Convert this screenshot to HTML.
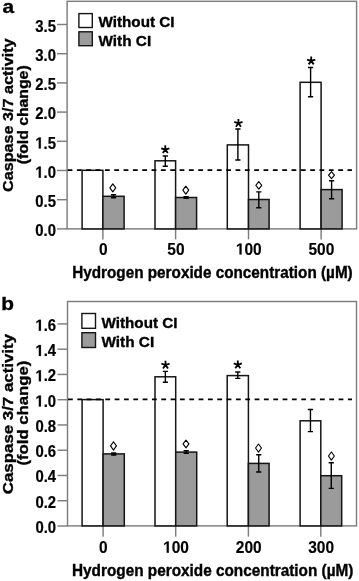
<!DOCTYPE html>
<html><head><meta charset="utf-8"><style>
html,body{margin:0;padding:0;background:#fff;width:359px;height:581px;overflow:hidden}
svg{display:block;will-change:transform}
svg text{font-family:"Liberation Sans",sans-serif;font-weight:bold;fill:#000;stroke:#000;stroke-width:0.35px}
.yl{font-size:14.9px;stroke-width:0.2px!important}
.xl{font-size:15.5px;stroke-width:0.15px!important}
.lg{font-size:15px}
.xt{font-size:15.2px}
.yt{font-size:15.5px}
.pl{font-size:19.5px}
.ast{font-size:17px}
</style></head><body>
<svg width="359" height="581" viewBox="0 0 359 581">
<rect x="67.1" y="1.3" width="289.5" height="227.6" fill="none" stroke="#7e7e7e" stroke-width="1.45"/>
<line x1="57" y1="228.90" x2="67.1" y2="228.90" stroke="#7e7e7e" stroke-width="1.45"/>
<g transform="translate(56.00,236.10) scale(1,1.08)"><text x="0" y="0" class="yl" text-anchor="end" >0.0</text></g>
<line x1="57" y1="199.70" x2="67.1" y2="199.70" stroke="#7e7e7e" stroke-width="1.45"/>
<g transform="translate(56.00,206.90) scale(1,1.08)"><text x="0" y="0" class="yl" text-anchor="end" >0.5</text></g>
<line x1="57" y1="170.50" x2="67.1" y2="170.50" stroke="#7e7e7e" stroke-width="1.45"/>
<g transform="translate(56.00,177.70) scale(1,1.08)"><path transform="translate(-20.71,0) scale(0.00728,-0.00728)" d="M478,0 L478,1170 L140,959 L140,1180 L493,1409 L759,1409 L759,0 Z" fill="#000" stroke="#000" stroke-width="27.5"/><text x="-12.43" y="0" class="yl">.</text><text x="-8.29" y="0" class="yl">0</text></g>
<line x1="57" y1="141.30" x2="67.1" y2="141.30" stroke="#7e7e7e" stroke-width="1.45"/>
<g transform="translate(56.00,148.50) scale(1,1.08)"><path transform="translate(-20.71,0) scale(0.00728,-0.00728)" d="M478,0 L478,1170 L140,959 L140,1180 L493,1409 L759,1409 L759,0 Z" fill="#000" stroke="#000" stroke-width="27.5"/><text x="-12.43" y="0" class="yl">.</text><text x="-8.29" y="0" class="yl">5</text></g>
<line x1="57" y1="112.10" x2="67.1" y2="112.10" stroke="#7e7e7e" stroke-width="1.45"/>
<g transform="translate(56.00,119.30) scale(1,1.08)"><text x="0" y="0" class="yl" text-anchor="end" >2.0</text></g>
<line x1="57" y1="82.90" x2="67.1" y2="82.90" stroke="#7e7e7e" stroke-width="1.45"/>
<g transform="translate(56.00,90.10) scale(1,1.08)"><text x="0" y="0" class="yl" text-anchor="end" >2.5</text></g>
<line x1="57" y1="53.70" x2="67.1" y2="53.70" stroke="#7e7e7e" stroke-width="1.45"/>
<g transform="translate(56.00,60.90) scale(1,1.08)"><text x="0" y="0" class="yl" text-anchor="end" >3.0</text></g>
<line x1="57" y1="24.50" x2="67.1" y2="24.50" stroke="#7e7e7e" stroke-width="1.45"/>
<g transform="translate(56.00,31.70) scale(1,1.08)"><text x="0" y="0" class="yl" text-anchor="end" >3.5</text></g>
<line x1="102.9" y1="228.9" x2="102.9" y2="239.4" stroke="#7e7e7e" stroke-width="1.45"/>
<g transform="translate(103.20,254.60) scale(1,1.05)"><text x="0" y="0" class="xl" text-anchor="middle" >0</text></g>
<rect x="82.10" y="170.30" width="20.80" height="58.60" fill="#fff" stroke="#151515" stroke-width="1.5"/>
<rect x="102.90" y="196.30" width="21.20" height="32.60" fill="#9b9b9b" stroke="#151515" stroke-width="1.5"/>
<path d="M110.90,194.80 H116.10 M113.50,194.80 V197.80 M110.90,197.80 H116.10" stroke="#000" stroke-width="1.4" fill="none"/>
<path d="M112.80,183.80 L115.75,187.80 L112.80,191.80 L109.85,187.80 Z" fill="none" stroke="#000" stroke-width="1.1" stroke-linejoin="round"/>
<line x1="175.6" y1="228.9" x2="175.6" y2="239.4" stroke="#7e7e7e" stroke-width="1.45"/>
<g transform="translate(175.90,254.60) scale(1,1.05)"><text x="0" y="0" class="xl" text-anchor="middle" >50</text></g>
<rect x="155.00" y="160.80" width="20.60" height="68.10" fill="#fff" stroke="#151515" stroke-width="1.5"/>
<rect x="175.60" y="197.50" width="21.00" height="31.40" fill="#9b9b9b" stroke="#151515" stroke-width="1.5"/>
<path d="M162.70,156.00 H167.90 M165.30,156.00 V166.20 M162.70,166.20 H167.90" stroke="#000" stroke-width="1.4" fill="none"/>
<path d="M183.50,196.60 H188.70 M186.10,196.60 V198.40 M183.50,198.40 H188.70" stroke="#000" stroke-width="1.4" fill="none"/>
<path d="M165.30,149.60 L165.30,145.30 M165.30,149.60 L169.39,148.27 M165.30,149.60 L167.83,153.08 M165.30,149.60 L162.77,153.08 M165.30,149.60 L161.21,148.27 " stroke="#000" stroke-width="1.8" fill="none"/>
<path d="M185.80,186.20 L188.75,190.15 L185.80,194.10 L182.85,190.15 Z" fill="none" stroke="#000" stroke-width="1.1" stroke-linejoin="round"/>
<line x1="248.5" y1="228.9" x2="248.5" y2="239.4" stroke="#7e7e7e" stroke-width="1.45"/>
<g transform="translate(248.80,254.60) scale(1,1.05)"><path transform="translate(-12.93,0) scale(0.00757,-0.00757)" d="M478,0 L478,1170 L140,959 L140,1180 L493,1409 L759,1409 L759,0 Z" fill="#000" stroke="#000" stroke-width="19.8"/><text x="-4.31" y="0" class="xl">0</text><text x="4.31" y="0" class="xl">0</text></g>
<rect x="227.30" y="144.90" width="21.20" height="84.00" fill="#fff" stroke="#151515" stroke-width="1.5"/>
<rect x="248.50" y="199.50" width="20.60" height="29.40" fill="#9b9b9b" stroke="#151515" stroke-width="1.5"/>
<path d="M235.30,129.00 H240.50 M237.90,129.00 V160.00 M235.30,160.00 H240.50" stroke="#000" stroke-width="1.4" fill="none"/>
<path d="M256.20,191.90 H261.40 M258.80,191.90 V207.70 M256.20,207.70 H261.40" stroke="#000" stroke-width="1.4" fill="none"/>
<path d="M238.40,123.30 L238.40,119.00 M238.40,123.30 L242.49,121.97 M238.40,123.30 L240.93,126.78 M238.40,123.30 L235.87,126.78 M238.40,123.30 L234.31,121.97 " stroke="#000" stroke-width="1.8" fill="none"/>
<path d="M258.80,181.50 L261.75,185.30 L258.80,189.10 L255.85,185.30 Z" fill="none" stroke="#000" stroke-width="1.1" stroke-linejoin="round"/>
<line x1="321.1" y1="228.9" x2="321.1" y2="239.4" stroke="#7e7e7e" stroke-width="1.45"/>
<g transform="translate(321.40,254.60) scale(1,1.05)"><text x="0" y="0" class="xl" text-anchor="middle" >500</text></g>
<rect x="300.10" y="82.30" width="21.00" height="146.60" fill="#fff" stroke="#151515" stroke-width="1.5"/>
<rect x="321.10" y="189.60" width="21.00" height="39.30" fill="#9b9b9b" stroke="#151515" stroke-width="1.5"/>
<path d="M308.00,67.50 H313.20 M310.60,67.50 V96.80 M308.00,96.80 H313.20" stroke="#000" stroke-width="1.4" fill="none"/>
<path d="M329.00,180.80 H334.20 M331.60,180.80 V198.70 M329.00,198.70 H334.20" stroke="#000" stroke-width="1.4" fill="none"/>
<path d="M311.20,60.90 L311.20,56.60 M311.20,60.90 L315.29,59.57 M311.20,60.90 L313.73,64.38 M311.20,60.90 L308.67,64.38 M311.20,60.90 L307.11,59.57 " stroke="#000" stroke-width="1.8" fill="none"/>
<path d="M331.50,171.70 L334.45,175.15 L331.50,178.60 L328.55,175.15 Z" fill="none" stroke="#000" stroke-width="1.1" stroke-linejoin="round"/>
<line x1="67.6" y1="170.15" x2="352" y2="170.15" stroke="#000" stroke-width="1.7" stroke-dasharray="4.8 4.53"/>
<rect x="78.9" y="13.6" width="13.4" height="13.9" fill="#fff" stroke="#151515" stroke-width="1.4"/>
<rect x="78.9" y="31.8" width="13.4" height="13.9" fill="#9b9b9b" stroke="#151515" stroke-width="1.4"/>
<g transform="translate(98.50,26.90) scale(1,1.02)"><text x="0" y="0" class="lg" text-anchor="start" textLength="76" lengthAdjust="spacingAndGlyphs">Without CI</text></g>
<g transform="translate(98.50,45.60) scale(1,1.02)"><text x="0" y="0" class="lg" text-anchor="start" textLength="52.7" lengthAdjust="spacingAndGlyphs">With CI</text></g>
<g transform="translate(72.20,277.60) scale(1,1.12)"><text x="0" y="0" class="xt" text-anchor="start" textLength="280.5" lengthAdjust="spacingAndGlyphs">Hydrogen peroxide concentration (µM)</text></g>
<text transform="translate(13.0,115.15) rotate(-90)" class="yt" text-anchor="middle" textLength="153.5" lengthAdjust="spacingAndGlyphs">Caspase 3/7 activity</text>
<text transform="translate(28.3,114.85) rotate(-90)" class="yt" text-anchor="middle" textLength="99.0" lengthAdjust="spacingAndGlyphs">(fold change)</text>
<g transform="translate(2.50,13.20) scale(1.07,0.97)"><text x="0" y="0" class="pl" text-anchor="start" >a</text></g>
<rect x="67.5" y="301.5" width="289.0" height="224.39999999999998" fill="none" stroke="#7e7e7e" stroke-width="1.45"/>
<line x1="57.5" y1="526.00" x2="67.5" y2="526.00" stroke="#7e7e7e" stroke-width="1.45"/>
<g transform="translate(56.10,532.90) scale(1,1.08)"><text x="0" y="0" class="yl" text-anchor="end" >0.0</text></g>
<line x1="57.5" y1="500.74" x2="67.5" y2="500.74" stroke="#7e7e7e" stroke-width="1.45"/>
<g transform="translate(56.10,507.64) scale(1,1.08)"><text x="0" y="0" class="yl" text-anchor="end" >0.2</text></g>
<line x1="57.5" y1="475.48" x2="67.5" y2="475.48" stroke="#7e7e7e" stroke-width="1.45"/>
<g transform="translate(56.10,482.38) scale(1,1.08)"><text x="0" y="0" class="yl" text-anchor="end" >0.4</text></g>
<line x1="57.5" y1="450.22" x2="67.5" y2="450.22" stroke="#7e7e7e" stroke-width="1.45"/>
<g transform="translate(56.10,457.12) scale(1,1.08)"><text x="0" y="0" class="yl" text-anchor="end" >0.6</text></g>
<line x1="57.5" y1="424.96" x2="67.5" y2="424.96" stroke="#7e7e7e" stroke-width="1.45"/>
<g transform="translate(56.10,431.86) scale(1,1.08)"><text x="0" y="0" class="yl" text-anchor="end" >0.8</text></g>
<line x1="57.5" y1="399.70" x2="67.5" y2="399.70" stroke="#7e7e7e" stroke-width="1.45"/>
<g transform="translate(56.10,406.60) scale(1,1.08)"><path transform="translate(-20.71,0) scale(0.00728,-0.00728)" d="M478,0 L478,1170 L140,959 L140,1180 L493,1409 L759,1409 L759,0 Z" fill="#000" stroke="#000" stroke-width="27.5"/><text x="-12.43" y="0" class="yl">.</text><text x="-8.29" y="0" class="yl">0</text></g>
<line x1="57.5" y1="374.44" x2="67.5" y2="374.44" stroke="#7e7e7e" stroke-width="1.45"/>
<g transform="translate(56.10,381.34) scale(1,1.08)"><path transform="translate(-20.71,0) scale(0.00728,-0.00728)" d="M478,0 L478,1170 L140,959 L140,1180 L493,1409 L759,1409 L759,0 Z" fill="#000" stroke="#000" stroke-width="27.5"/><text x="-12.43" y="0" class="yl">.</text><text x="-8.29" y="0" class="yl">2</text></g>
<line x1="57.5" y1="349.18" x2="67.5" y2="349.18" stroke="#7e7e7e" stroke-width="1.45"/>
<g transform="translate(56.10,356.08) scale(1,1.08)"><path transform="translate(-20.71,0) scale(0.00728,-0.00728)" d="M478,0 L478,1170 L140,959 L140,1180 L493,1409 L759,1409 L759,0 Z" fill="#000" stroke="#000" stroke-width="27.5"/><text x="-12.43" y="0" class="yl">.</text><text x="-8.29" y="0" class="yl">4</text></g>
<line x1="57.5" y1="323.92" x2="67.5" y2="323.92" stroke="#7e7e7e" stroke-width="1.45"/>
<g transform="translate(56.10,330.82) scale(1,1.08)"><path transform="translate(-20.71,0) scale(0.00728,-0.00728)" d="M478,0 L478,1170 L140,959 L140,1180 L493,1409 L759,1409 L759,0 Z" fill="#000" stroke="#000" stroke-width="27.5"/><text x="-12.43" y="0" class="yl">.</text><text x="-8.29" y="0" class="yl">6</text></g>
<line x1="103.1" y1="525.9" x2="103.1" y2="536.6999999999999" stroke="#7e7e7e" stroke-width="1.45"/>
<g transform="translate(103.40,552.80) scale(1,1.05)"><text x="0" y="0" class="xl" text-anchor="middle" >0</text></g>
<rect x="82.10" y="399.60" width="21.00" height="126.30" fill="#fff" stroke="#151515" stroke-width="1.5"/>
<rect x="103.10" y="453.90" width="21.20" height="72.00" fill="#9b9b9b" stroke="#151515" stroke-width="1.5"/>
<path d="M111.10,453.00 H116.30 M113.70,453.00 V455.00 M111.10,455.00 H116.30" stroke="#000" stroke-width="1.4" fill="none"/>
<path d="M113.50,441.70 L116.45,445.90 L113.50,450.10 L110.55,445.90 Z" fill="none" stroke="#000" stroke-width="1.1" stroke-linejoin="round"/>
<line x1="175.7" y1="525.9" x2="175.7" y2="536.6999999999999" stroke="#7e7e7e" stroke-width="1.45"/>
<g transform="translate(176.00,552.80) scale(1,1.05)"><path transform="translate(-12.93,0) scale(0.00757,-0.00757)" d="M478,0 L478,1170 L140,959 L140,1180 L493,1409 L759,1409 L759,0 Z" fill="#000" stroke="#000" stroke-width="19.8"/><text x="-4.31" y="0" class="xl">0</text><text x="4.31" y="0" class="xl">0</text></g>
<rect x="155.00" y="376.80" width="20.70" height="149.10" fill="#fff" stroke="#151515" stroke-width="1.5"/>
<rect x="175.70" y="452.10" width="21.00" height="73.80" fill="#9b9b9b" stroke="#151515" stroke-width="1.5"/>
<path d="M162.75,371.40 H167.95 M165.35,371.40 V382.30 M162.75,382.30 H167.95" stroke="#000" stroke-width="1.4" fill="none"/>
<path d="M183.60,450.80 H188.80 M186.20,450.80 V453.40 M183.60,453.40 H188.80" stroke="#000" stroke-width="1.4" fill="none"/>
<path d="M165.50,365.00 L165.50,360.70 M165.50,365.00 L169.59,363.67 M165.50,365.00 L168.03,368.48 M165.50,365.00 L162.97,368.48 M165.50,365.00 L161.41,363.67 " stroke="#000" stroke-width="1.8" fill="none"/>
<path d="M186.00,440.10 L188.95,443.95 L186.00,447.80 L183.05,443.95 Z" fill="none" stroke="#000" stroke-width="1.1" stroke-linejoin="round"/>
<line x1="248.4" y1="525.9" x2="248.4" y2="536.6999999999999" stroke="#7e7e7e" stroke-width="1.45"/>
<g transform="translate(248.70,552.80) scale(1,1.05)"><text x="0" y="0" class="xl" text-anchor="middle" >200</text></g>
<rect x="227.20" y="375.60" width="21.20" height="150.30" fill="#fff" stroke="#151515" stroke-width="1.5"/>
<rect x="248.40" y="463.40" width="20.70" height="62.50" fill="#9b9b9b" stroke="#151515" stroke-width="1.5"/>
<path d="M235.20,372.00 H240.40 M237.80,372.00 V378.40 M235.20,378.40 H240.40" stroke="#000" stroke-width="1.4" fill="none"/>
<path d="M256.15,454.70 H261.35 M258.75,454.70 V472.00 M256.15,472.00 H261.35" stroke="#000" stroke-width="1.4" fill="none"/>
<path d="M237.80,364.80 L237.80,360.50 M237.80,364.80 L241.89,363.47 M237.80,364.80 L240.33,368.28 M237.80,364.80 L235.27,368.28 M237.80,364.80 L233.71,363.47 " stroke="#000" stroke-width="1.8" fill="none"/>
<path d="M258.50,444.00 L261.45,448.05 L258.50,452.10 L255.55,448.05 Z" fill="none" stroke="#000" stroke-width="1.1" stroke-linejoin="round"/>
<line x1="320.8" y1="525.9" x2="320.8" y2="536.6999999999999" stroke="#7e7e7e" stroke-width="1.45"/>
<g transform="translate(321.10,552.80) scale(1,1.05)"><text x="0" y="0" class="xl" text-anchor="middle" >300</text></g>
<rect x="300.10" y="420.80" width="20.70" height="105.10" fill="#fff" stroke="#151515" stroke-width="1.5"/>
<rect x="320.80" y="475.70" width="20.90" height="50.20" fill="#9b9b9b" stroke="#151515" stroke-width="1.5"/>
<path d="M307.85,409.50 H313.05 M310.45,409.50 V431.60 M307.85,431.60 H313.05" stroke="#000" stroke-width="1.4" fill="none"/>
<path d="M328.65,462.70 H333.85 M331.25,462.70 V488.40 M328.65,488.40 H333.85" stroke="#000" stroke-width="1.4" fill="none"/>
<path d="M331.40,452.00 L334.35,456.05 L331.40,460.10 L328.45,456.05 Z" fill="none" stroke="#000" stroke-width="1.1" stroke-linejoin="round"/>
<line x1="68.0" y1="399.30" x2="352" y2="399.30" stroke="#000" stroke-width="1.7" stroke-dasharray="4.8 4.53"/>
<rect x="81.9" y="313.5" width="13.6" height="14.8" fill="#fff" stroke="#151515" stroke-width="1.4"/>
<rect x="81.9" y="332.7" width="13.6" height="14.8" fill="#9b9b9b" stroke="#151515" stroke-width="1.4"/>
<g transform="translate(101.50,327.70) scale(1,1.02)"><text x="0" y="0" class="lg" text-anchor="start" textLength="76" lengthAdjust="spacingAndGlyphs">Without CI</text></g>
<g transform="translate(101.50,346.50) scale(1,1.02)"><text x="0" y="0" class="lg" text-anchor="start" textLength="52.7" lengthAdjust="spacingAndGlyphs">With CI</text></g>
<g transform="translate(72.00,576.30) scale(1,1.12)"><text x="0" y="0" class="xt" text-anchor="start" textLength="281.4" lengthAdjust="spacingAndGlyphs">Hydrogen peroxide concentration (µM)</text></g>
<text transform="translate(13.0,414.1) rotate(-90)" class="yt" text-anchor="middle" textLength="160.2" lengthAdjust="spacingAndGlyphs">Caspase 3/7 activity</text>
<text transform="translate(28.3,413.1) rotate(-90)" class="yt" text-anchor="middle" textLength="104.9" lengthAdjust="spacingAndGlyphs">(fold change)</text>
<g transform="translate(1.20,309.60) scale(1.07,0.97)"><text x="0" y="0" class="pl" text-anchor="start" >b</text></g>
</svg></body></html>
